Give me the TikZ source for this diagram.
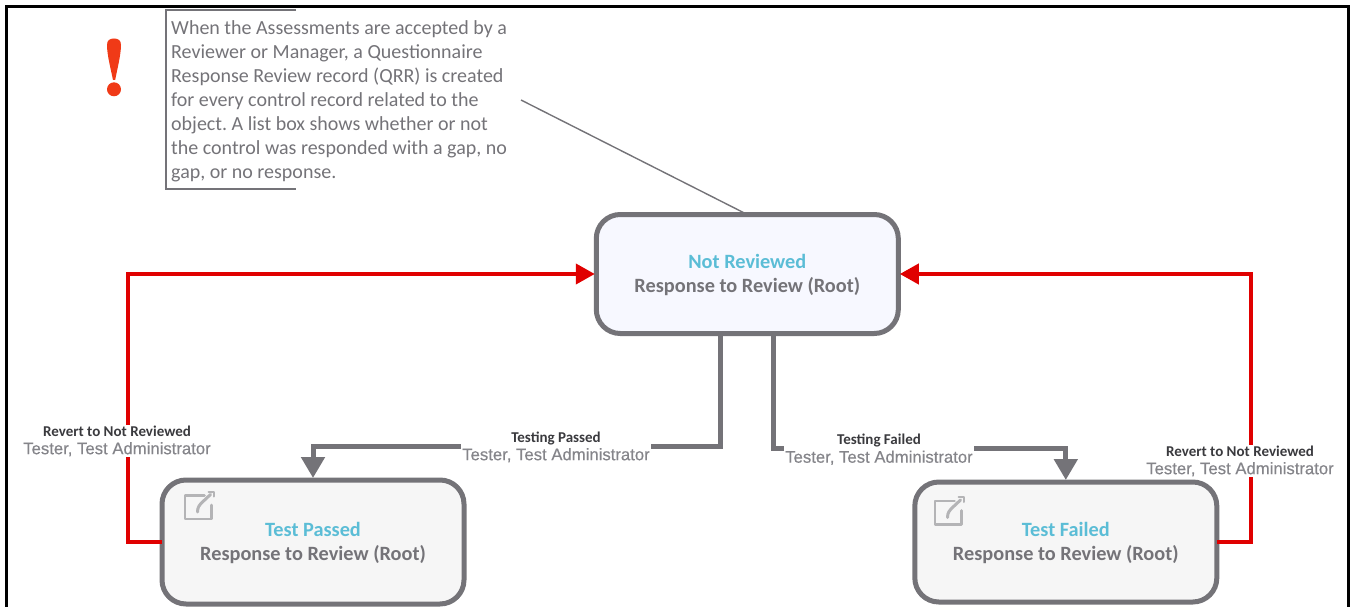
\documentclass[tikz,border=0pt]{standalone}
\usepackage{fontspec}
\setmainfont{Carlito}
\newfontfamily\rolefont[FakeBold=0.35]{Liberation Sans}
\usetikzlibrary{arrows.meta,calc}
\definecolor{gline}{HTML}{747378}
\definecolor{redl}{HTML}{E00000}
\definecolor{tealt}{HTML}{5BBDD6}
\definecolor{rolec}{HTML}{85858A}
\definecolor{darkt}{HTML}{3A3A3E}
\definecolor{iconc}{HTML}{B4B4B6}
\definecolor{rootbg}{HTML}{F7F8FF}
\definecolor{leafbg}{HTML}{F6F6F6}
\definecolor{bang}{HTML}{F03A17}
\tikzset{
  statebox/.style={draw=gline,line width=5pt,outer sep=0pt,rounded corners=24pt,minimum width=302pt,inner sep=0pt,align=center,font=\fontsize{20.3}{24}\selectfont\bfseries,text=gline},
  rootfill/.style={fill=rootbg},
  leaffill/.style={fill=leafbg},
  grayflow/.style={draw=gline,line width=5pt,shorten >=2pt,-{Triangle[length=21pt,width=23pt]}},
  redflow/.style={draw=redl,line width=4pt,shorten >=1.5pt,-{Triangle[length=19pt,width=20pt]}},
  flowlabel/.style={fill=white,inner sep=1pt,align=center,font=\fontsize{15}{18}\selectfont},
  notetext/.style={anchor=north west,inner sep=0pt,align=left,text=gline,font=\fontsize{20}{24}\selectfont},
}
\newcommand{\statetext}[2]{\rule{0pt}{17pt}{\color{tealt}#1}\\#2}
\newcommand{\flowtext}[1]{{\bfseries\color{darkt}#1}\\{\rolefont\fontsize{16.7}{18}\selectfont\color{rolec}Tester, Test Administrator}}
\newcommand{\editicon}[2]{%
  \begin{scope}[shift={(#1,#2)},draw=iconc,line cap=round,line join=round]
    \draw[line width=2.8pt] (21,5.5) -- (1.5,5.5) -- (1.5,29) -- (28,29) -- (28,15);
    \draw[line width=3pt] (14,22) .. controls (14,17) and (16,15) .. (19,12) -- (27,4.5);
    \draw[line width=2pt] (25,1.5) -- (30,1.5) -- (30,6.5);
  \end{scope}}
\begin{document}
\frenchspacing
\begin{tikzpicture}[x=1pt,y=-1pt]
\useasboundingbox (0,0) rectangle (1351,607);
\draw[black,line width=3.5pt] (6.5,607) -- (6.5,6.5) -- (1348.3,6.5) -- (1348.3,607);
% exclamation mark
\fill[bang] (107,45) .. controls (107,40) and (110,38.5) .. (114,38.5) .. controls (118,38.5) and (121,40) .. (121,45) .. controls (121,55) and (117,70) .. (115.2,80) -- (113,80) .. controls (111,70) and (107,55) .. (107,45) -- cycle;
\fill[bang] (114,89.3) circle (7pt);
% note
\draw[gline,line width=2pt] (296,10) -- (166,10) -- (166,189) -- (296,189);
\node[notetext] (note) at (171,20) {When the Assessments are accepted by a\\Reviewer or Manager, a Questionnaire\\Response Review record (QRR) is created\\for every control record related to the\\object. A list box shows whether or not\\the control was responded with a gap, no\\gap, or no response.};
\coordinate (noteend) at (521,100);
% states
\draw[gline,line width=1.4pt] (noteend) -- (747.3,214.5);
\node[statebox,rootfill,minimum height=119pt] (nr) at (747.3,274) {\statetext{Not Reviewed}{Response to Review (Root)}};
\node[statebox,leaffill,minimum height=124pt] (tp) at (313,542) {\statetext{Test Passed}{Response to Review (Root)}};
\node[statebox,leaffill,minimum height=120pt] (tf) at (1065.8,542) {\statetext{Test Failed}{Response to Review (Root)}};
\editicon{183.5}{490}
\editicon{933.5}{495.5}
% connectors
\draw[grayflow] ([xshift=-26.5pt]nr.south) |- ([yshift=34pt]tp.north) -- (tp.north);
\draw[grayflow] ([xshift=26pt]nr.south) |- ([yshift=34pt]tf.north) -- (tf.north);
\draw[redflow] (tp.west) -- ++(-34,0) |- (nr.west);
\draw[redflow] (tf.east) -- ++(34,0) |- (nr.east);
% labels
\node[flowlabel] (l1) at (117,441) {\flowtext{Revert to Not Reviewed}};
\node[flowlabel] (l2) at (556,447) {\flowtext{Testing Passed}};
\node[flowlabel] (l3) at (879,449.5) {\flowtext{Testing Failed}};
\node[flowlabel] (l4) at (1240,461) {\flowtext{Revert to Not Reviewed}};
\end{tikzpicture}
\end{document}
